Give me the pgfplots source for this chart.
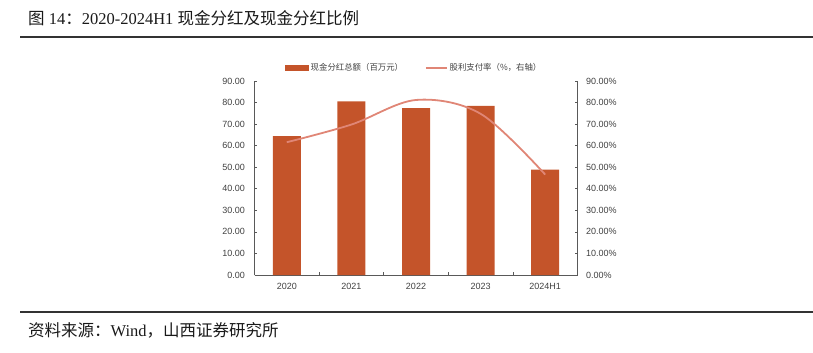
\documentclass[border=0pt]{standalone}
\usepackage{fontspec}
\usepackage{pgfplots}
\pgfplotsset{compat=1.18}
\setmainfont{Liberation Serif}
\newfontfamily\cjk{Noto Sans CJK SC}
\newfontfamily\arial{Liberation Sans}
\definecolor{barc}{RGB}{196,84,42}
\definecolor{linec}{RGB}{224,134,118}
\definecolor{axc}{RGB}{89,89,89}
\definecolor{txc}{RGB}{64,64,64}
\begin{document}
\begin{tikzpicture}
\useasboundingbox (0,0) rectangle (813pt,-353pt);
\node[anchor=west, font=\fontsize{16.5}{18}\selectfont, text=black!90, inner sep=0pt] at (28pt,-18pt) {{\cjk 图} 14{\cjk ：}2020-2024H1 {\cjk 现金分红及现金分红比例}};
\draw[line width=1.2pt, black!80] (20pt,-37pt) -- (813pt,-37pt);
\draw[line width=1.2pt, black!80] (20pt,-312pt) -- (813pt,-312pt);
\node[anchor=west, font=\fontsize{16.5}{18}\selectfont, text=black!90, inner sep=0pt] at (28pt,-330pt) {{\cjk 资料来源：}Wind{\cjk ，山西证券研究所}};

\begin{axis}[
  at={(254.5pt,-275pt)}, anchor=south west,
  scale only axis, width=323pt, height=194pt,
  xmin=-0.5, xmax=4.5, ymin=0, ymax=90,
  axis x line*=bottom, axis y line*=left,
  axis line style={axc, line width=0.8pt},
  xtick={0,1,2,3,4},
  xticklabels={2020,2021,2022,2023,2024H1},
  major x tick style={draw=none},
  minor xtick={0.5,1.5,2.5,3.5},
  minor tick length=3pt,
  ytick={0,10,...,90},
  tick align=inside,
  major tick length=2.5pt,
  tick style={axc, line width=0.6pt},
  /pgf/number format/assume math mode=true,
  yticklabel={\pgfmathprintnumber[fixed,fixed zerofill,precision=2]{\tick}},
  ticklabel style={font=\arial\fontsize{9}{10}\selectfont, text=txc},
  yticklabel style={xshift=-6pt},
  xticklabel style={yshift=-5pt},
  legend style={at={(0.093,1.067)}, anchor=west, draw=none, fill=none,
    legend columns=2, font=\cjk\fontsize{8.4}{9}\selectfont, text=txc,
    inner sep=0pt,
    /tikz/every even column/.append style={column sep=20pt}},
]
\addplot[ybar, bar width=28pt, fill=barc, draw=none,
  legend image code/.code={\fill[barc] (0pt,-3pt) rectangle (24pt,3pt);}]
  coordinates {(0,64.4) (1,80.5) (2,77.4) (3,78.5) (4,48.9)};
\addlegendentry{现金分红总额（百万元）}
\addlegendimage{legend image code/.code={\draw[linec, line width=1.5pt] (0pt,0pt) -- (21pt,0pt);}}
\addlegendentry{股利支付率（\%，右轴）}
\end{axis}

\begin{axis}[
  at={(254.5pt,-275pt)}, anchor=south west,
  scale only axis, width=323pt, height=194pt,
  xmin=-0.5, xmax=4.5, ymin=0, ymax=90,
  axis y line*=right, axis x line=none,
  axis line style={axc, line width=0.8pt},
  ytick={0,10,...,90},
  tick align=inside,
  major tick length=2.5pt,
  tick style={axc, line width=0.6pt},
  /pgf/number format/assume math mode=true,
  yticklabel={\pgfmathprintnumber[fixed,fixed zerofill,precision=2]{\tick}\%},
  ticklabel style={font=\arial\fontsize{9}{10}\selectfont, text=txc},
  yticklabel style={xshift=5pt},
]
\addplot[smooth, tension=0.55, linec, line width=1.8pt]
  coordinates {(0,61.6) (1,69.8) (2,81.2) (3,74.8) (4,46.6)};
\end{axis}
\end{tikzpicture}
\end{document}
